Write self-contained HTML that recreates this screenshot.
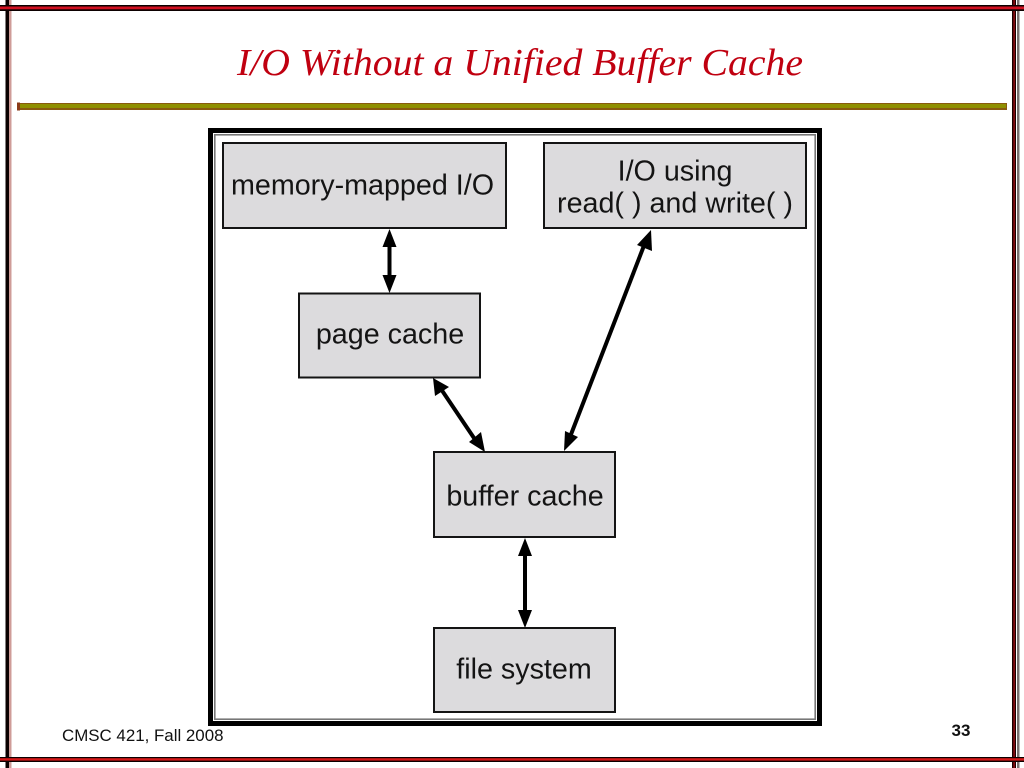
<!DOCTYPE html>
<html>
<head>
<meta charset="utf-8">
<style>
html,body{margin:0;padding:0;background:#fff;}
body{width:1024px;height:768px;overflow:hidden;position:relative;}
svg{position:absolute;left:0;top:0;}
</style>
</head>
<body>
<svg width="1024" height="768" viewBox="0 0 1024 768" xmlns="http://www.w3.org/2000/svg">
<rect width="1024" height="768" fill="#fff"/>

<!-- slide frame -->
<rect x="9" y="0" width="2.500" height="768" fill="#cf9c98"/>
<rect x="5.500" y="0" width="3.500" height="768" fill="#0a0000"/>
<rect x="1017" y="0" width="2.500" height="768" fill="#77706e"/>
<rect x="1012" y="0" width="4" height="768" fill="#1a0000"/>
<rect x="1013.500" y="0" width="1.200" height="768" fill="#b01018"/>

<rect x="0" y="5" width="1024" height="6" fill="#0c0000"/>
<rect x="0" y="6.500" width="1024" height="2.800" fill="#d01020"/>
<rect x="0" y="757" width="1024" height="5" fill="#0c0000"/>
<rect x="0" y="758.200" width="1024" height="2.400" fill="#d81818"/>

<!-- title -->
<text x="237" y="75" textLength="566" lengthAdjust="spacingAndGlyphs" font-family="'Liberation Serif',serif" font-style="italic" font-size="38" fill="#c00010">I/O Without a Unified Buffer Cache</text>

<!-- title rule -->
<rect x="17" y="103" width="990" height="7" fill="#8a5a10"/>
<rect x="19" y="104" width="987" height="4" fill="#8f9000"/>
<rect x="17" y="102.500" width="3" height="8" fill="#8a3a18"/>

<!-- figure frame -->
<rect x="210.500" y="130.500" width="609" height="593" fill="#fff" stroke="#000" stroke-width="5"/>
<rect x="214.800" y="134.800" width="600.400" height="584.400" fill="#fff" stroke="#777" stroke-width="1.600"/>

<!-- boxes -->
<g fill="#dcdbdd" stroke="#141414" stroke-width="2">
<rect x="223" y="143" width="283" height="85"/>
<rect x="544" y="143" width="262" height="85"/>
<rect x="299" y="293.500" width="181" height="84"/>
<rect x="434" y="452" width="181" height="85"/>
<rect x="434" y="628" width="181" height="84"/>
</g>

<!-- labels -->
<g font-family="'Liberation Sans',sans-serif" font-size="28.700" fill="#141414" text-anchor="middle">
<text x="362.500" y="194.500">memory-mapped I/O</text>
<text x="675" y="180.500">I/O using</text>
<text x="675" y="212.500">read( ) and write( )</text>
<text x="390" y="343.500">page cache</text>
<text x="525" y="505.500">buffer cache</text>
<text x="524" y="678.500">file system</text>
</g>

<!-- connectors -->
<g stroke="#000" stroke-width="4" fill="none">
<line x1="389.500" y1="240" x2="389.500" y2="282"/>
<line x1="441" y1="389" x2="476" y2="441"/>
<line x1="645" y1="243" x2="570" y2="437"/>
<line x1="525" y1="550" x2="525" y2="616"/>
</g>
<g fill="#000">
<polygon points="389.500,229 382.500,247 396.500,247"/>
<polygon points="389.500,293 382.500,275 396.500,275"/>
<polygon points="433,378 435,396 449,387"/>
<polygon points="485,452 481,432 469,442"/>
<polygon points="651,230 637,245 652,251"/>
<polygon points="564,451 578,437 565,431"/>
<polygon points="525,538 518,556 532,556"/>
<polygon points="525,628 518,610 532,610"/>
</g>

<!-- footer -->
<text x="62" y="741" font-family="'Liberation Sans',sans-serif" font-size="16.900" fill="#111">CMSC 421, Fall 2008</text>
<text x="961" y="736" text-anchor="middle" font-family="'Liberation Sans',sans-serif" font-weight="bold" font-size="17" fill="#111">33</text>
</svg>
</body>
</html>
